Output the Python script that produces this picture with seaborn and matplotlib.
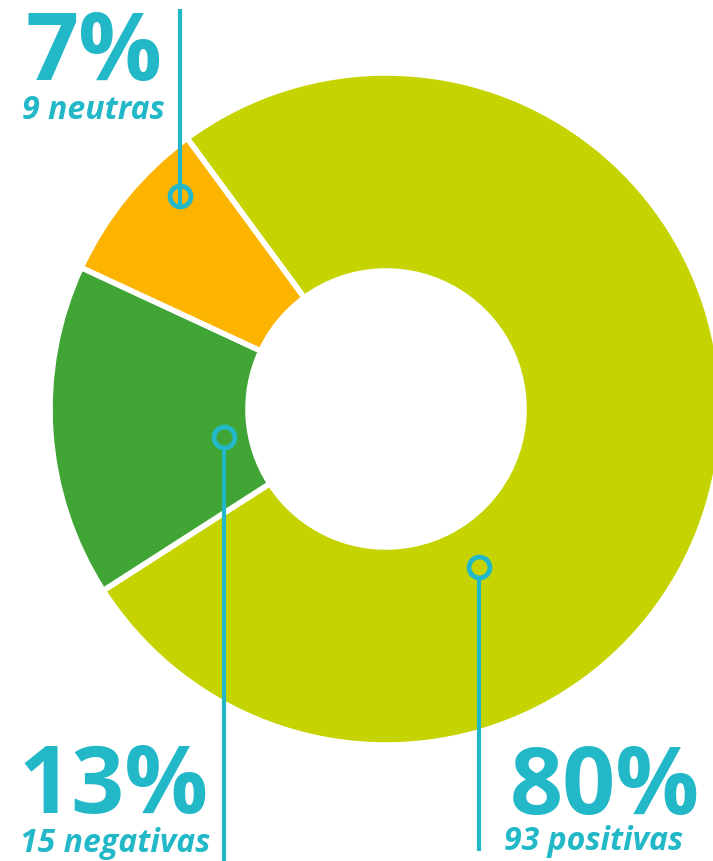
import matplotlib
matplotlib.use("Agg")
import matplotlib.pyplot as plt
import seaborn as sns

# Data
labels = ["positivas", "negativas", "neutras"]
counts = [93, 15, 9]
pct_labels = ["80%", "13%", "7%"]
# slice sizes as drawn in the reference (share of the ring, %)
slice_share = [76, 16, 8]
colors = ["#C5D400", "#40A535", "#FDB400"]
teal = "#22B8C8"

sns.set_style("white")
plt.rcParams["font.family"] = ["Open Sans", "Lato", "DejaVu Sans"]

W, H = 713, 862
fig = plt.figure(figsize=(W / 100, H / 100), dpi=100)
ax = fig.add_axes([0, 0, 1, 1])

cx, cy = 386, H - 410
R, r = 336, 138

ax.pie(slice_share, colors=colors, startangle=126.3, counterclock=False,
       center=(cx, cy), radius=R, frame=True,
       wedgeprops=dict(width=R - r, edgecolor="white", linewidth=4))

ax.set_xlim(0, W)
ax.set_ylim(0, H)
ax.set_aspect("equal")
ax.axis("off")

# leader lines with ring markers (x, marker y, end y in pixels from top)
leaders = [(479, 568, 852), (224, 438, 862), (180, 197, 10)]
for x, ym, yend in leaders:
    ax.plot([x, x], [H - ym - 10, H - yend], color=teal, lw=3, solid_capstyle="butt", zorder=5)
    ax.plot(x, H - ym, marker="o", ms=15, mfc="none", mec=teal, mew=3.5, zorder=6)

# big percentages and counts
pos = [(700, 814, "right", 683, 850),
       (18, 813, "left", 20, 852),
       (162, 80, "right", 165, 119)]
for (xp, yp, ha, xc, yc), p, n, lab in zip(pos, pct_labels, counts, labels):
    ax.text(xp, H - yp, p, color=teal, fontsize=67, fontweight="bold",
            ha=ha, va="baseline")
    ax.text(xc, H - yc, f"{n} {lab}", color=teal, fontsize=23, fontweight="bold",
            style="italic", ha=ha, va="baseline")

fig.savefig("out.png", dpi=100)
